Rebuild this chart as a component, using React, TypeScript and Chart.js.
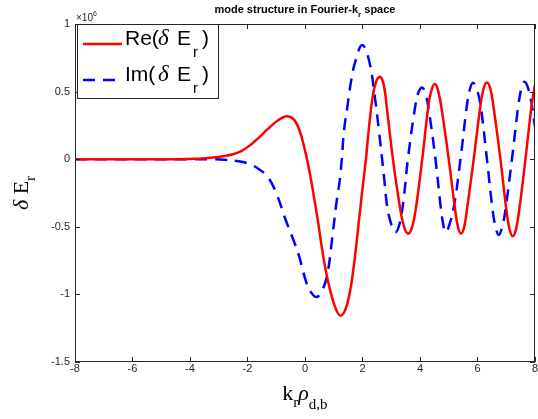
import React, { useEffect, useRef } from "react";
import { Chart, registerables } from "chart.js";

Chart.register(...registerables);

// Re(δE_r) samples (values in units of 1e6)
const reX = [-8, -4.5, -4.0, -3.6, -3.2, -2.85, -2.5, -2.2, -1.9, -1.6, -1.3, -1.0, -0.8, -0.65, -0.5, -0.35, -0.2, -0.05, 0.1, 0.25, 0.43, 0.72, 1.01, 1.24, 1.47, 1.68, 1.88, 2.0, 2.12, 2.22, 2.34, 2.47, 2.61, 2.74, 2.88, 3.06, 3.3, 3.45, 3.59, 3.73, 3.86, 4.08, 4.29, 4.4, 4.52, 4.64, 4.77, 5.0, 5.21, 5.32, 5.43, 5.54, 5.65, 5.87, 6.1, 6.21, 6.33, 6.45, 6.57, 6.8, 7.01, 7.12, 7.23, 7.34, 7.45, 7.67, 7.88, 8.0];
const reY = [0, 0, 0.002, 0.005, 0.012, 0.022, 0.037, 0.062, 0.105, 0.16, 0.222, 0.278, 0.306, 0.318, 0.312, 0.285, 0.22, 0.11, -0.03, -0.2, -0.43, -0.82, -1.07, -1.157, -1.07, -0.82, -0.45, -0.22, 0.0, 0.22, 0.44, 0.57, 0.61, 0.55, 0.32, 0, -0.35, -0.5, -0.55, -0.5, -0.36, 0, 0.39, 0.51, 0.556, 0.5, 0.35, 0, -0.35, -0.5, -0.55, -0.5, -0.35, 0, 0.39, 0.52, 0.568, 0.52, 0.37, 0, -0.38, -0.52, -0.57, -0.52, -0.38, 0, 0.39, 0.55];

// Im(δE_r) samples (values in units of 1e6)
const imX = [-8, -4.0, -3.2, -2.8, -2.3, -2.0, -1.7, -1.3, -1.0, -0.67, -0.38, -0.2, 0.03, 0.2, 0.4, 0.6, 0.78, 0.95, 1.09, 1.21, 1.28, 1.36, 1.47, 1.61, 1.76, 1.99, 2.23, 2.43, 2.57, 2.75, 2.86, 3.0, 3.15, 3.3, 3.44, 3.58, 3.85, 3.96, 4.08, 4.2, 4.31, 4.54, 4.72, 4.8, 4.89, 5.0, 5.18, 5.41, 5.64, 5.74, 5.84, 5.97, 6.1, 6.33, 6.53, 6.64, 6.74, 6.85, 6.97, 7.2, 7.43, 7.54, 7.64, 7.77, 7.9, 8.0];
const imY = [0, 0, -0.001, -0.004, -0.015, -0.03, -0.06, -0.13, -0.25, -0.45, -0.61, -0.72, -0.9, -0.98, -1.02, -0.97, -0.85, -0.58, -0.33, -0.156, 0, 0.215, 0.38, 0.585, 0.73, 0.845, 0.73, 0.46, 0.215, -0.13, -0.35, -0.48, -0.54, -0.47, -0.28, 0, 0.41, 0.5, 0.53, 0.48, 0.36, 0, -0.35, -0.47, -0.54, -0.5, -0.35, 0, 0.41, 0.52, 0.565, 0.52, 0.41, 0, -0.38, -0.51, -0.56, -0.51, -0.38, 0, 0.41, 0.53, 0.573, 0.52, 0.39, 0.24];

const xTicks = [-8, -6, -4, -2, 0, 2, 4, 6, 8];
const yTicks = [1, 0.5, 0, -0.5, -1, -1.5];

const AXIS = "#262626";
const SANS = "'Liberation Sans', Arial, sans-serif";
const SERIF = "'Liberation Serif', 'Times New Roman', serif";

type Seg = { t: string; f: string; dy?: number; x?: number };

function drawRich(ctx: CanvasRenderingContext2D, segs: Seg[], x: number, y: number, align: "left" | "center") {
  let total = 0;
  const widths = segs.map((s) => {
    ctx.font = s.f;
    const w = ctx.measureText(s.t).width;
    total += w;
    return w;
  });
  let cx = align === "center" ? x - total / 2 : x;
  ctx.textAlign = "left";
  ctx.textBaseline = "alphabetic";
  segs.forEach((s, i) => {
    ctx.font = s.f;
    const px = s.x !== undefined ? x + s.x : cx;
    ctx.fillText(s.t, px, y + (s.dy || 0));
    cx = px + widths[i];
  });
}

const decor = {
  id: "decor",
  afterDraw(chart: any) {
    const ctx: CanvasRenderingContext2D = chart.ctx;
    const { left, right, top, bottom } = chart.chartArea;
    const xs = chart.scales.x;
    const ys = chart.scales.y;
    ctx.save();
    // box
    ctx.strokeStyle = AXIS;
    ctx.lineWidth = 1;
    ctx.beginPath();
    ctx.rect(Math.round(left) + 0.5, Math.round(top) + 0.5, Math.round(right) - Math.round(left) - 1, Math.round(bottom) - Math.round(top) - 1);
    ctx.stroke();
    // inward ticks
    const tl = 5;
    ctx.beginPath();
    xTicks.forEach((v) => {
      const px = Math.round(xs.getPixelForValue(v)) + 0.5;
      ctx.moveTo(px, bottom);
      ctx.lineTo(px, bottom - tl);
      ctx.moveTo(px, top);
      ctx.lineTo(px, top + tl);
    });
    yTicks.forEach((v) => {
      const py = Math.round(ys.getPixelForValue(v)) + 0.5;
      ctx.moveTo(left, py);
      ctx.lineTo(left + tl, py);
      ctx.moveTo(right, py);
      ctx.lineTo(right - tl, py);
    });
    ctx.stroke();

    ctx.fillStyle = "#000";
    // title
    drawRich(
      ctx,
      [
        { t: "mode structure in Fourier-k", f: `bold 11px ${SANS}` },
        { t: "r", f: `bold 8px ${SANS}`, dy: 4 },
        { t: " space", f: `bold 11px ${SANS}` },
      ],
      (left + right) / 2,
      13,
      "center"
    );
    // exponent
    ctx.fillStyle = AXIS;
    drawRich(
      ctx,
      [
        { t: "\u00d710", f: `10px ${SANS}` },
        { t: "6", f: `7px ${SANS}`, dy: -5 },
      ],
      left + 1,
      20.5,
      "left"
    );
    // x label
    ctx.fillStyle = "#000";
    drawRich(
      ctx,
      [
        { t: "k", f: `22px ${SERIF}` },
        { t: "r", f: `15px ${SERIF}`, dy: 7 },
        { t: "\u03c1", f: `italic 22px ${SERIF}` },
        { t: "d,b", f: `15px ${SERIF}`, dy: 9 },
      ],
      (left + right) / 2,
      400,
      "center"
    );
    // y label (rotated)
    ctx.save();
    ctx.translate(28, (top + bottom) / 2);
    ctx.rotate(-Math.PI / 2);
    drawRich(
      ctx,
      [
        { t: "\u03b4", f: `italic 22px ${SERIF}` },
        { t: " E", f: `22px ${SERIF}` },
        { t: "r", f: `15px ${SERIF}`, dy: 7 },
      ],
      0,
      0,
      "center"
    );
    ctx.restore();

    // legend
    const lx = 77, ly = 24, lw = 142, lh = 75;
    ctx.fillStyle = "#fff";
    ctx.fillRect(lx, ly, lw, lh);
    ctx.strokeStyle = AXIS;
    ctx.lineWidth = 1;
    ctx.strokeRect(lx + 0.5, ly + 0.5, lw - 1, lh - 1);
    const entries = [
      { name: "Re", color: "#ff0000", dash: [] as number[], y: 44 },
      { name: "Im", color: "#0000ff", dash: [12, 8], y: 80 },
    ];
    entries.forEach((e) => {
      ctx.save();
      ctx.strokeStyle = e.color;
      ctx.lineWidth = 2.5;
      ctx.setLineDash(e.dash);
      ctx.beginPath();
      ctx.moveTo(83, e.y);
      ctx.lineTo(122, e.y);
      ctx.stroke();
      ctx.restore();
      ctx.fillStyle = "#000";
      drawRich(
        ctx,
        [
          { t: e.name + "(", f: `21px ${SANS}`, x: 0 },
          { t: "\u03b4", f: `italic 23px ${SERIF}`, x: 33 },
          { t: "E", f: `21px ${SANS}`, x: 52 },
          { t: "r", f: `15px ${SANS}`, dy: 12, x: 68 },
          { t: ")", f: `21px ${SANS}`, x: 77 },
        ],
        125,
        e.y + 1,
        "left"
      );
    });
    ctx.restore();
  },
};

export default function App() {
  const ref = useRef<HTMLCanvasElement>(null);
  useEffect(() => {
    const canvas = ref.current;
    if (!canvas) return;
    const tickFont = { family: SANS, size: 11 };
    const chart = new Chart(canvas, {
      type: "line",
      data: {
        datasets: [
          {
            label: "Re",
            data: reX.map((x, i) => ({ x, y: reY[i] })),
            borderColor: "#ff0000",
            borderWidth: 2.5,
            pointRadius: 0,
            tension: 0.4,
            clip: 0,
          } as any,
          {
            label: "Im",
            data: imX.map((x, i) => ({ x, y: imY[i] })),
            borderColor: "#0000ff",
            borderWidth: 2.5,
            borderDash: [12, 8],
            pointRadius: 0,
            tension: 0.4,
            clip: 0,
          } as any,
        ],
      },
      options: {
        responsive: false,
        animation: false,
        devicePixelRatio: 1,
        layout: { padding: { left: 0, right: 1.5, top: 24, bottom: 0 } },
        plugins: {
          legend: { display: false },
          tooltip: { enabled: false },
          title: { display: false },
        },
        scales: {
          x: {
            type: "linear",
            min: -8,
            max: 8,
            afterBuildTicks: (s: any) => {
              s.ticks = xTicks.map((v) => ({ value: v }));
            },
            afterFit: (s: any) => {
              s.height = 57;
            },
            grid: { display: false, drawTicks: false },
            border: { display: false },
            ticks: {
              padding: 0,
              font: tickFont,
              color: AXIS,
              maxRotation: 0,
              autoSkip: false,
              callback: (v: any) => String(v),
            },
          },
          y: {
            type: "linear",
            min: -1.5,
            max: 1,
            afterBuildTicks: (s: any) => {
              s.ticks = yTicks.map((v) => ({ value: v }));
            },
            afterFit: (s: any) => {
              s.width = 75;
            },
            grid: { display: false, drawTicks: false },
            border: { display: false },
            ticks: {
              padding: 5,
              font: tickFont,
              color: AXIS,
              autoSkip: false,
              callback: (v: any) => String(v),
            },
          },
        },
      } as any,
      plugins: [decor],
    });
    return () => chart.destroy();
  }, []);
  return (
    <div style={{ position: "absolute", left: 0, top: 0, width: 538, height: 419, background: "#fff" }}>
      <canvas ref={ref} width={538} height={419} style={{ display: "block" }} />
    </div>
  );
}
